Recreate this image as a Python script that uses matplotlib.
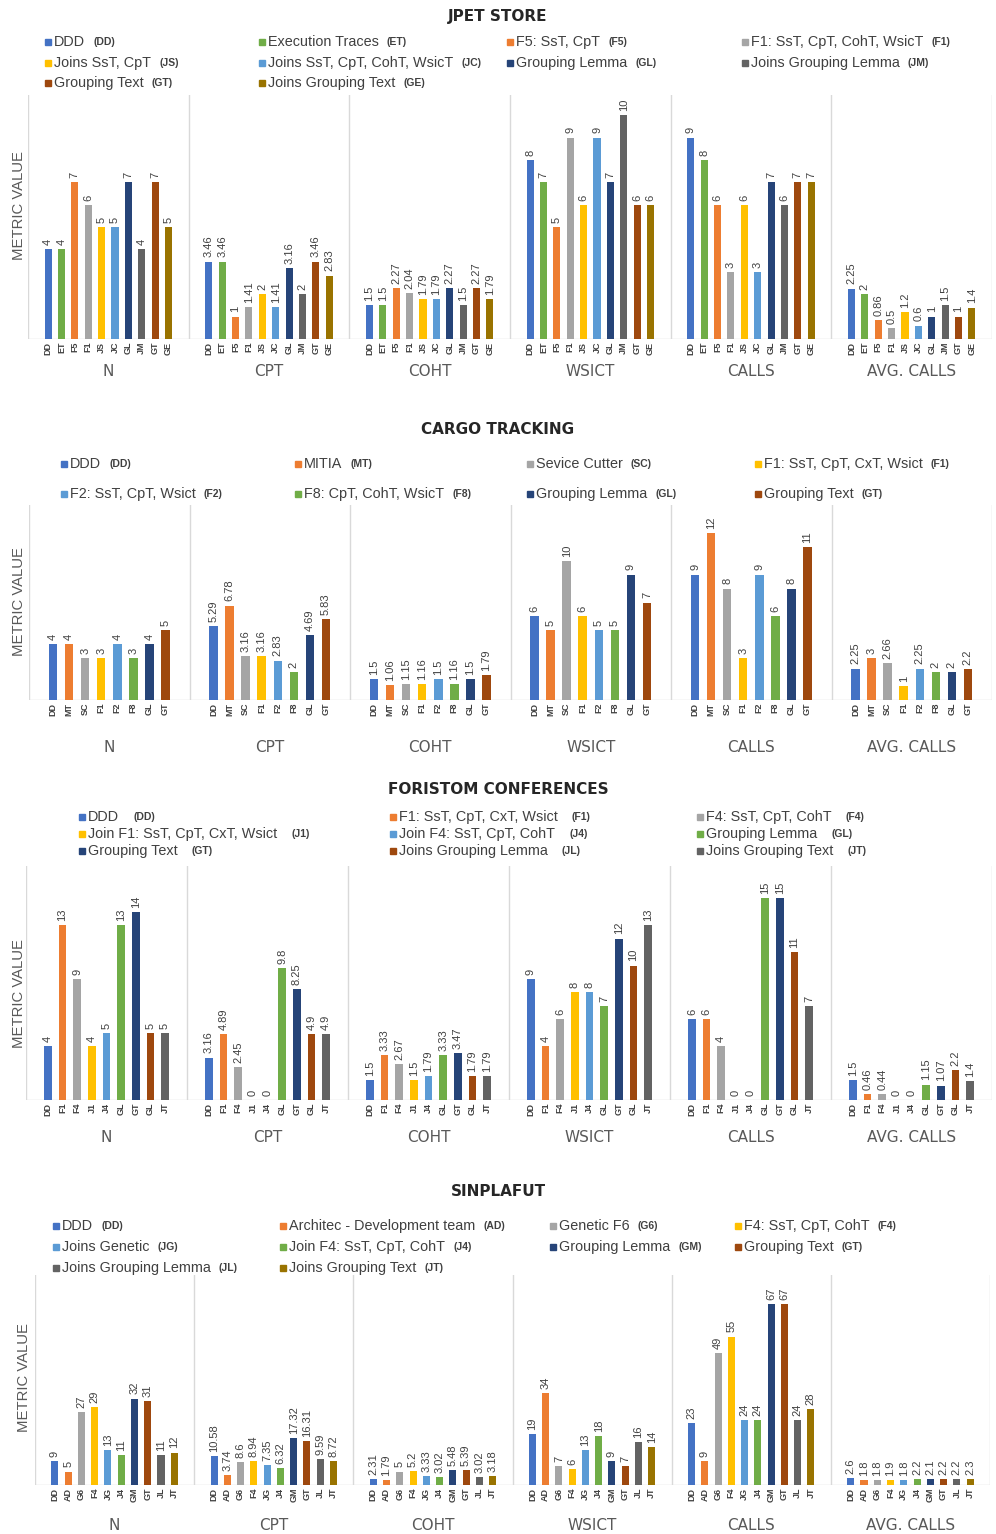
import matplotlib
matplotlib.use('Agg')
import matplotlib.pyplot as plt
from matplotlib.lines import Line2D

W, H = 996, 1534
fig = plt.figure(figsize=(W / 100, H / 100), dpi=100)
fig.patch.set_facecolor('white')

BLUE = '#4472C4'; ORANGE = '#ED7D31'; GRAY = '#A5A5A5'; YELLOW = '#FFC000'
LBLUE = '#5B9BD5'; GREEN = '#70AD47'; DBLUE = '#264478'; BROWN = '#9E480E'
DGRAY = '#636363'; OLIVE = '#997300'

metrics = ['N', 'CPT', 'COHT', 'WSICT', 'CALLS', 'AVG. CALLS']

# ---------------- JPET STORE ----------------
jpet_title = 'JPET STORE'
jpet_names = ['DDD', 'Execution Traces', 'F5: SsT, CpT', 'F1: SsT, CpT, CohT, WsicT',
              'Joins SsT, CpT', 'Joins SsT, CpT, CohT, WsicT', 'Grouping Lemma',
              'Joins Grouping Lemma', 'Grouping Text', 'Joins Grouping Text']
jpet_codes = ['DD', 'ET', 'F5', 'F1', 'JS', 'JC', 'GL', 'JM', 'GT', 'GE']
jpet_ticks = ['DD', 'ET', 'F5', 'F1', 'JS', 'JC', 'GL', 'JM', 'GT', 'GE']
jpet_colors = [BLUE, GREEN, ORANGE, GRAY, YELLOW, LBLUE, DBLUE, DGRAY, BROWN, OLIVE]
jpet_N = [4, 4, 7, 6, 5, 5, 7, 4, 7, 5]
jpet_CPT = [3.46, 3.46, 1, 1.41, 2, 1.41, 3.16, 2, 3.46, 2.83]
jpet_COHT = [1.5, 1.5, 2.27, 2.04, 1.79, 1.79, 2.27, 1.5, 2.27, 1.79]
jpet_WSICT = [8, 7, 5, 9, 6, 9, 7, 10, 6, 6]
jpet_CALLS = [9, 8, 6, 3, 6, 3, 7, 6, 7, 7]
jpet_AVG = [2.25, 2, 0.86, 0.5, 1.2, 0.6, 1, 1.5, 1, 1.4]

# ---------------- CARGO TRACKING ----------------
cargo_title = 'CARGO TRACKING'
cargo_names = ['DDD', 'MITIA', 'Sevice Cutter', 'F1: SsT, CpT, CxT, Wsict',
               'F2: SsT, CpT, Wsict', 'F8: CpT, CohT, WsicT', 'Grouping Lemma', 'Grouping Text']
cargo_codes = ['DD', 'MT', 'SC', 'F1', 'F2', 'F8', 'GL', 'GT']
cargo_ticks = ['DD', 'MT', 'SC', 'F1', 'F2', 'F8', 'GL', 'GT']
cargo_colors = [BLUE, ORANGE, GRAY, YELLOW, LBLUE, GREEN, DBLUE, BROWN]
cargo_N = [4, 4, 3, 3, 4, 3, 4, 5]
cargo_CPT = [5.29, 6.78, 3.16, 3.16, 2.83, 2, 4.69, 5.83]
cargo_COHT = [1.5, 1.06, 1.15, 1.16, 1.5, 1.16, 1.5, 1.79]
cargo_WSICT = [6, 5, 10, 6, 5, 5, 9, 7]
cargo_CALLS = [9, 12, 8, 3, 9, 6, 8, 11]
cargo_AVG = [2.25, 3, 2.66, 1, 2.25, 2, 2, 2.2]

# ---------------- FORISTOM CONFERENCES ----------------
fori_title = 'FORISTOM CONFERENCES'
fori_names = ['DDD', 'F1: SsT, CpT, CxT, Wsict', 'F4: SsT, CpT, CohT',
              'Join F1: SsT, CpT, CxT, Wsict', 'Join F4: SsT, CpT, CohT', 'Grouping Lemma',
              'Grouping Text', 'Joins Grouping Lemma', 'Joins Grouping Text']
fori_codes = ['DD', 'F1', 'F4', 'J1', 'J4', 'GL', 'GT', 'JL', 'JT']
fori_ticks = ['DD', 'F1', 'F4', 'J1', 'J4', 'GL', 'GT', 'GL', 'JT']
fori_colors = [BLUE, ORANGE, GRAY, YELLOW, LBLUE, GREEN, DBLUE, BROWN, DGRAY]
fori_N = [4, 13, 9, 4, 5, 13, 14, 5, 5]
fori_CPT = [3.16, 4.89, 2.45, 0, 0, 9.8, 8.25, 4.9, 4.9]
fori_COHT = [1.5, 3.33, 2.67, 1.5, 1.79, 3.33, 3.47, 1.79, 1.79]
fori_WSICT = [9, 4, 6, 8, 8, 7, 12, 10, 13]
fori_CALLS = [6, 6, 4, 0, 0, 15, 15, 11, 7]
fori_AVG = [1.5, 0.46, 0.44, 0, 0, 1.15, 1.07, 2.2, 1.4]

# ---------------- SINPLAFUT ----------------
sinp_title = 'SINPLAFUT'
sinp_names = ['DDD', 'Architec - Development team', 'Genetic F6', 'F4: SsT, CpT, CohT',
              'Joins Genetic', 'Join F4: SsT, CpT, CohT', 'Grouping Lemma', 'Grouping Text',
              'Joins Grouping Lemma', 'Joins Grouping Text']
sinp_codes = ['DD', 'AD', 'G6', 'F4', 'JG', 'J4', 'GM', 'GT', 'JL', 'JT']
sinp_ticks = ['DD', 'AD', 'G6', 'F4', 'JG', 'J4', 'GM', 'GT', 'JL', 'JT']
sinp_colors = [BLUE, ORANGE, GRAY, YELLOW, LBLUE, GREEN, DBLUE, BROWN, DGRAY, OLIVE]
sinp_N = [9, 5, 27, 29, 13, 11, 32, 31, 11, 12]
sinp_CPT = [10.58, 3.74, 8.6, 8.94, 7.35, 6.32, 17.32, 16.31, 9.59, 8.72]
sinp_COHT = [2.31, 1.79, 5, 5.2, 3.33, 3.02, 5.48, 5.39, 3.02, 3.18]
sinp_WSICT = [19, 34, 7, 6, 13, 18, 9, 7, 16, 14]
sinp_CALLS = [23, 9, 49, 55, 24, 24, 67, 67, 24, 28]
sinp_AVG = [2.6, 1.8, 1.8, 1.9, 1.8, 2.2, 2.1, 2.2, 2.2, 2.3]

panels = [
    dict(title=jpet_title, names=jpet_names, codes=jpet_codes, ticks=jpet_ticks, colors=jpet_colors,
         values=[jpet_N, jpet_CPT, jpet_COHT, jpet_WSICT, jpet_CALLS, jpet_AVG]),
    dict(title=cargo_title, names=cargo_names, codes=cargo_codes, ticks=cargo_ticks, colors=cargo_colors,
         values=[cargo_N, cargo_CPT, cargo_COHT, cargo_WSICT, cargo_CALLS, cargo_AVG]),
    dict(title=fori_title, names=fori_names, codes=fori_codes, ticks=fori_ticks, colors=fori_colors,
         values=[fori_N, fori_CPT, fori_COHT, fori_WSICT, fori_CALLS, fori_AVG]),
    dict(title=sinp_title, names=sinp_names, codes=sinp_codes, ticks=sinp_ticks, colors=sinp_colors,
         values=[sinp_N, sinp_CPT, sinp_COHT, sinp_WSICT, sinp_CALLS, sinp_AVG]),
]

# layout (pixels from top-left)
layouts = [
    dict(box=(28, 992, 339, 95), ytop=10.9, title_y=16, ncol=4, cols=[48, 262, 510, 745],
         rows=[42, 63, 83], gap=8, label_y=372, ylab=(19, 205)),
    dict(box=(29, 992, 700, 505), ytop=14.0, title_y=430, ncol=4, cols=[64, 298, 530, 758],
         rows=[464, 494], gap=8, label_y=748, ylab=(19, 602)),
    dict(box=(26, 992, 1100, 866), ytop=17.4, title_y=789, ncol=3, cols=[82, 393, 700],
         rows=[817, 834, 851], gap=14, label_y=1137, ylab=(19, 993)),
    dict(box=(35, 990, 1485, 1275), ytop=77.8, title_y=1191, ncol=4, cols=[56, 283, 553, 738],
         rows=[1226, 1247, 1268], gap=8, label_y=1525, ylab=(24, 1378)),
]

TXT = '#404040'
SEP = '#D9D9D9'
LF = 'Liberation Sans'

fig.canvas.draw()
renderer = fig.canvas.get_renderer()

def fx(px):
    return px / W

def fy(py):
    return 1 - py / H

for p, L in zip(panels, layouts):
    left, right, bottom, top = L['box']
    ax = fig.add_axes([fx(left), fy(bottom), (right - left) / W, (bottom - top) / H])
    n = len(p['codes'])
    gw = n + 2
    xs, hs, cs, tl = [], [], [], []
    for g, vals in enumerate(p['values']):
        for i, v in enumerate(vals):
            xs.append(g * gw + 1.5 + i)
            hs.append(v)
            cs.append(p['colors'][i])
            tl.append(p['ticks'][i])
    ax.bar(xs, hs, width=0.53, color=cs, zorder=3)
    for x, v in zip(xs, hs):
        ax.annotate(f"{v:g}", (x, v), xytext=(0, 3), textcoords='offset points',
                    rotation=90, ha='center', va='bottom', fontsize=8, color=TXT,
                    family=LF, annotation_clip=False)
    ax.set_xlim(0, 6 * gw)
    ax.set_ylim(0, L['ytop'])
    for g in range(7):
        ax.axvline(g * gw, color=SEP, lw=1, zorder=1)
    ax.axhline(0, color=SEP, lw=1, zorder=2)
    ax.set_xticks(xs)
    ax.set_xticklabels(tl, rotation=90, fontsize=6.5, fontweight='bold', color=TXT, family=LF)
    ax.tick_params(axis='x', length=0, pad=2)
    ax.set_yticks([])
    for s in ax.spines.values():
        s.set_visible(False)
    ax.patch.set_alpha(0)

    # group labels
    for g, m in enumerate(metrics):
        cx = left + (g + 0.5) * (right - left) / 6
        fig.text(fx(cx), fy(L['label_y']), m, ha='center', va='center', fontsize=11,
                 color='#595959', family='DejaVu Sans')

    # y label
    fig.text(fx(L['ylab'][0]), fy(L['ylab'][1]), 'METRIC VALUE', rotation=90, ha='center',
             va='center', fontsize=10.7, color='#595959', family=LF)

    # title
    fig.text(0.5, fy(L['title_y']), p['title'], ha='center', va='center', fontsize=11,
             fontweight='bold', color='#262626', family='DejaVu Sans')

    # legend
    for k, (name, code, col) in enumerate(zip(p['names'], p['codes'], p['colors'])):
        c = k % L['ncol']
        r = k // L['ncol']
        mx = L['cols'][c]
        my = L['rows'][r]
        fig.add_artist(Line2D([fx(mx)], [fy(my)], marker='s', ms=4.5, color=col,
                              linestyle='none', transform=fig.transFigure))
        t = fig.text(fx(mx + 6), fy(my), name, ha='left', va='center', fontsize=10.4,
                     color=TXT, family=LF)
        bb = t.get_window_extent(renderer)
        fig.text(fx(bb.x1 + L['gap']), fy(my), f"({code})", ha='left', va='center',
                 fontsize=7.5, fontweight='bold', color=TXT, family=LF)

fig.savefig('out.png', dpi=100, facecolor='white')
